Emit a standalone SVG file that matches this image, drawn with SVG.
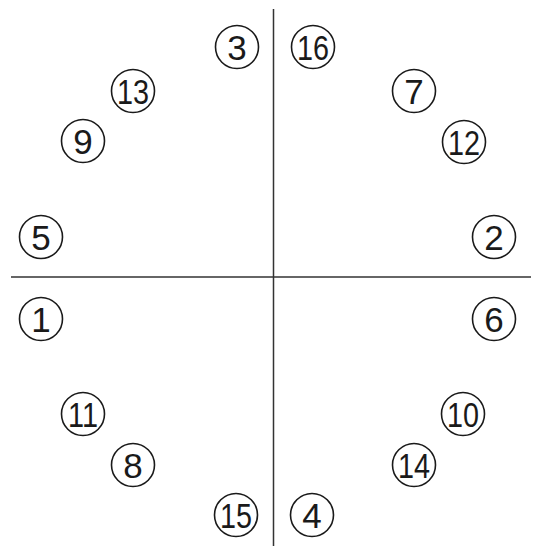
<svg xmlns="http://www.w3.org/2000/svg" width="533" height="548" viewBox="0 0 533 548">
<style>
.n circle{fill:#fff;stroke:#1a1a1a;stroke-width:1.6}
.n text{font-family:"Liberation Sans",Arial,sans-serif;font-size:35px;fill:#1a1a1a;text-anchor:middle}
.ax{stroke:#333;stroke-width:1.5}
</style>
<rect width="533" height="548" fill="#fff"/>
<g id="connectors">
<line class="ax" x1="273.5" y1="9" x2="273.5" y2="546"/>
<line class="ax" x1="11" y1="277" x2="531" y2="277"/>
</g>
<g id="n3" class="n"><circle cx="237" cy="47" r="21.5"/><text x="237" y="59.5">3</text></g>
<g id="n16" class="n"><circle cx="313" cy="47" r="21.5"/><text x="313" y="59.5" textLength="32" lengthAdjust="spacingAndGlyphs">16</text></g>
<g id="n13" class="n"><circle cx="133" cy="91" r="21.5"/><text x="133" y="103.5" textLength="32" lengthAdjust="spacingAndGlyphs">13</text></g>
<g id="n7" class="n"><circle cx="414" cy="91" r="21.5"/><text x="414" y="103.5">7</text></g>
<g id="n9" class="n"><circle cx="83" cy="141" r="21.5"/><text x="83" y="153.5">9</text></g>
<g id="n12" class="n"><circle cx="464" cy="142" r="21.5"/><text x="464" y="154.5" textLength="32" lengthAdjust="spacingAndGlyphs">12</text></g>
<g id="n5" class="n"><circle cx="41" cy="237" r="21.5"/><text x="41" y="249.5">5</text></g>
<g id="n2" class="n"><circle cx="494" cy="237" r="21.5"/><text x="494" y="249.5">2</text></g>
<g id="n1" class="n"><circle cx="41" cy="319" r="21.5"/><text x="41" y="331.5">1</text></g>
<g id="n6" class="n"><circle cx="494" cy="319" r="21.5"/><text x="494" y="331.5">6</text></g>
<g id="n11" class="n"><circle cx="83" cy="414" r="21.5"/><text x="83" y="426.5" textLength="30" lengthAdjust="spacingAndGlyphs">11</text></g>
<g id="n10" class="n"><circle cx="463" cy="414" r="21.5"/><text x="463" y="426.5" textLength="32" lengthAdjust="spacingAndGlyphs">10</text></g>
<g id="n8" class="n"><circle cx="133" cy="465" r="21.5"/><text x="133" y="477.5">8</text></g>
<g id="n14" class="n"><circle cx="414" cy="465" r="21.5"/><text x="414" y="477.5" textLength="32" lengthAdjust="spacingAndGlyphs">14</text></g>
<g id="n15" class="n"><circle cx="236" cy="515" r="21.5"/><text x="236" y="527.5" textLength="32" lengthAdjust="spacingAndGlyphs">15</text></g>
<g id="n4" class="n"><circle cx="312" cy="515" r="21.5"/><text x="312" y="527.5">4</text></g>
</svg>
